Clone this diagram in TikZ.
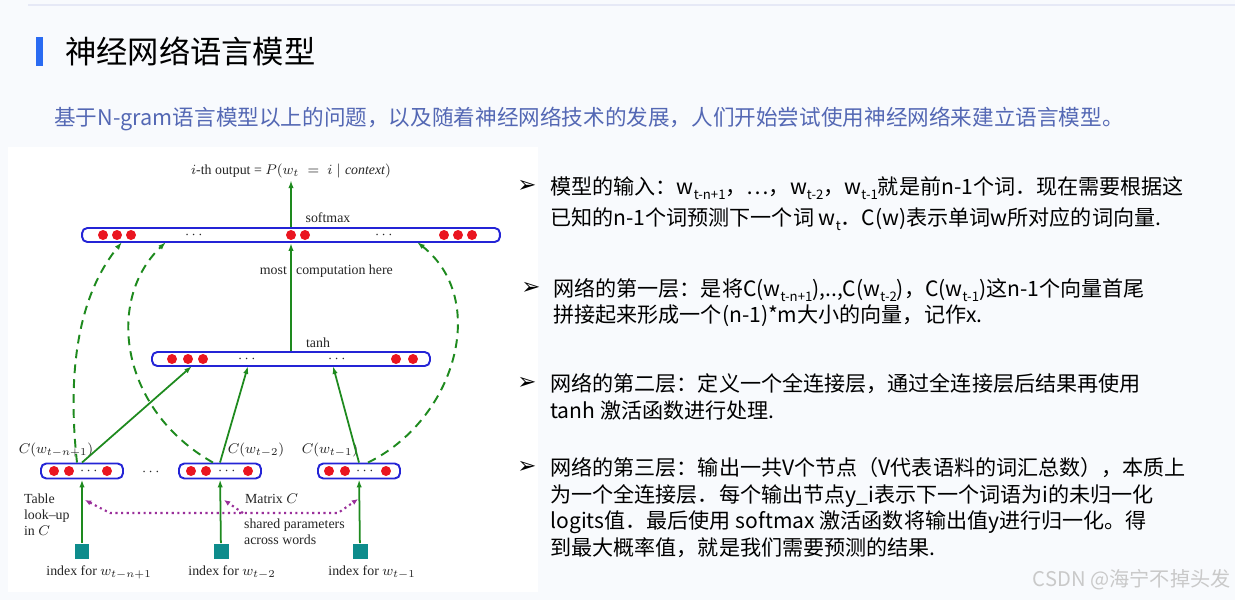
\documentclass[tikz,border=0pt]{standalone}
\usepackage{fontspec}
\usepackage{amsmath}
\usepackage{xcolor}
\usepackage{tikz}
\usetikzlibrary{positioning,arrows.meta,calc}

\setmainfont{Liberation Serif}
\newfontfamily\cjk{Noto Sans CJK SC}
\newfontfamily\dingfont{DejaVu Sans}

\definecolor{pagebg}{HTML}{F8FAFD}
\definecolor{topline}{HTML}{E6E9F6}
\definecolor{titlebar}{HTML}{2A6BF2}
\definecolor{leadblue}{HTML}{5468B4}
\definecolor{barblue}{HTML}{2424D6}
\definecolor{dotred}{HTML}{EA1520}
\definecolor{netgreen}{HTML}{1E8A1E}
\definecolor{idxteal}{HTML}{0E8C8C}
\definecolor{sharepurple}{HTML}{9A2F9A}
\definecolor{markgray}{HTML}{C9C9C9}

\newcommand{\lowidx}[1]{\raisebox{-0.45ex}{\fontsize{7.5}{7.5}\selectfont #1}}
\newcommand{\pointer}{{\dingfont\fontsize{13}{13}\selectfont ➢}}

\begin{document}
\begin{tikzpicture}[x=0.02cm, y=-0.02cm,
    bar/.style={rectangle, rounded corners=3pt, draw=barblue, line width=1.1pt, fill=white, minimum height=0.28cm, inner sep=0pt},
    idxbox/.style={rectangle, fill=idxteal, minimum size=0.3cm, inner sep=0pt},
    txt/.style={font=\fontsize{7.9}{9}\selectfont, inner sep=1pt, text=black!85},
    flow/.style={draw=netgreen, line width=1pt, -{Latex[length=4.5pt,width=3pt]}},
    skip/.style={flow, line width=1.1pt, dashed, dash pattern=on 5pt off 3.5pt},
    share/.style={draw=sharepurple, line width=1.2pt, dotted, -{Latex[length=3.5pt,width=3pt]}},
    note/.style={font=\cjk\fontsize{12}{14}\selectfont, anchor=base west, inner sep=0pt}
]
\useasboundingbox (0,0) rectangle (1235,600);
\fill[pagebg] (0,0) rectangle (1235,600);
\draw[topline, line width=1pt] (28,5) -- (1235,5);
\fill[white] (8,147) rectangle (538,592);

% heading
\fill[titlebar] (36,37) rectangle (43,66);
\node[font=\cjk\fontsize{17.8}{20}\selectfont, anchor=west, inner sep=0pt] (title) at (65,51) {神经网络语言模型};
\node[font=\cjk\fontsize{12.3}{14}\selectfont, text=leadblue, anchor=west, inner sep=0pt] (lead) at (54,119)
  {基于N-gram语言模型以上的问题，以及随着神经网络技术的发展，人们开始尝试使用神经网络来建立语言模型。};

% layers
\node[bar, minimum width=8.36cm] (outlayer) at (291,235) {};
\node[bar, minimum width=5.56cm] (hidlayer) at (291,359) {};
\node[bar, minimum width=1.64cm, minimum height=0.3cm] (emb1) at (82,471) {};
\node[bar, minimum width=1.64cm, minimum height=0.3cm] (emb2) at (220,471) {};
\node[bar, minimum width=1.64cm, minimum height=0.3cm] (emb3) at (359,471) {};

\foreach \x in {103,117,131,291,305,444,458,472}
  \fill[dotred] (\x,235) circle[radius=0.1cm];
\foreach \x in {172,188,203,396,413}
  \fill[dotred] (\x,359) circle[radius=0.1cm];
\foreach \x in {54,69,107,191,206,248,329,345,386}
  \fill[dotred] (\x,471) circle[radius=0.1cm];
\foreach \x/\y in {195/235,385/235,248/359,338/359,90/471,228/471,366/471,152/472}
  \node[txt] at (\x,\y) {$\cdots$};

% inputs
\node[idxbox] (idx1) at (82,551) {};
\node[idxbox] (idx2) at (221,551) {};
\node[idxbox] (idx3) at (360,551) {};
\node[txt] (in1) at (99,572) {index for $w_{t-n+1}$};
\node[txt] (in2) at (232,572) {index for $w_{t-2}$};
\node[txt] (in3) at (372,572) {index for $w_{t-1}$};

% labels
\node[txt] (output) at (291,171) {$i$-th output = $P(w_t\;=\;i\mid \mathit{context})$};
\node[txt] at (328,218) {softmax};
\node[txt] at (318,343) {tanh};
\node[txt, anchor=east] at (289,271) {most};
\node[txt, anchor=west] at (294,271) {computation here};
\node[txt] at (56,450) {$C(w_{t-n+1})$};
\node[txt] at (256,450) {$C(w_{t-2})$};
\node[txt] at (330,450) {$C(w_{t-1})$};
\node[txt, align=left, anchor=north west] at (22,492) {Table\\look--up\\in $C$};
\node[txt, anchor=west] at (243,499) {Matrix $C$};
\node[txt, align=left, anchor=north west] at (242,517) {shared parameters\\across words};

% connections
\coordinate (h1) at (192,366);
\coordinate (h2) at (248,366);
\coordinate (h3) at (333,366);
\coordinate (o1) at (122,242);
\coordinate (o2) at (166,242);
\coordinate (o3) at (417,242);

\draw[flow] (outlayer.north) -- (output.south);
\draw[flow] (hidlayer.north) -- (outlayer.south);
\draw[flow] (emb1.north) -- (h1);
\draw[flow] (emb2.north) -- (h2);
\draw[flow] (emb3.north) -- (h3);
\draw[flow] (idx1) -- (emb1);
\draw[flow] (idx2) -- (emb2);
\draw[flow] (idx3) -- (emb3);

\draw[skip] ($(emb1.north)+(-5,0)$) .. controls (68,380) and (75,300) .. (o1);
\draw[skip] ($(emb2.north)+(-7,0)$) .. controls (120,410) and (105,300) .. (o2);
\draw[skip] ($(emb3.north)+(9,0)$) .. controls (455,420) and (490,300) .. (o3);

\coordinate (sL) at (110,513);
\coordinate (sM) at (243,513);
\coordinate (sR) at (338,513);
\coordinate (tL) at (85,500);
\coordinate (tM) at (224,500);
\coordinate (tR) at (358,499);
\draw[share, {Latex[length=3.5pt,width=3pt]}-{Latex[length=3.5pt,width=3pt]}] (tL) -- (sL) -- (sR) -- (tR);
\draw[share] (sM) -- (tM);

% notes
\node[inner sep=0pt] (bul1) at (527,186) {\pointer};
\node[note] (ln1) at (550,194) {模型的输入：w\lowidx{t-n+1}，…，w\lowidx{t-2}，w\lowidx{t-1}就是前n-1个词．现在需要根据这};
\node[note] (ln2) at (550,225) {已知的n-1个词预测下一个词 w\lowidx{t}．C(w)表示单词w所对应的词向量.};
\node[inner sep=0pt] (bul2) at (531,288) {\pointer};
\node[note] (ln3) at (553,296) {网络的第一层：是将C(w\lowidx{t-n+1}),..,C(w\lowidx{t-2})，C(w\lowidx{t-1})这n-1个向量首尾};
\node[note] (ln4) at (553,322) {拼接起来形成一个(n-1)*m大小的向量，记作x.};
\node[inner sep=0pt] (bul3) at (527,383) {\pointer};
\node[note] (ln5) at (550,391) {网络的第二层：定义一个全连接层，通过全连接层后结果再使用};
\node[note] (ln6) at (550,418) {tanh 激活函数进行处理.};
\node[inner sep=0pt] (bul4) at (527,467) {\pointer};
\node[note] (ln7) at (550,475) {网络的第三层：输出一共V个节点（V代表语料的词汇总数），本质上};
\node[note] (ln8) at (550,502) {为一个全连接层．每个输出节点y\_i表示下一个词语为i的未归一化};
\node[note] (ln9) at (550,528) {logits值．最后使用 softmax 激活函数将输出值y进行归一化。得};
\node[note] (ln10) at (550,555) {到最大概率值，就是我们需要预测的结果.};

\node[font=\cjk\fontsize{11.5}{13}\selectfont, text=markgray, anchor=east, inner sep=0pt] (mark) at (1231,580) {CSDN @海宁不掉头发};
\end{tikzpicture}
\end{document}
